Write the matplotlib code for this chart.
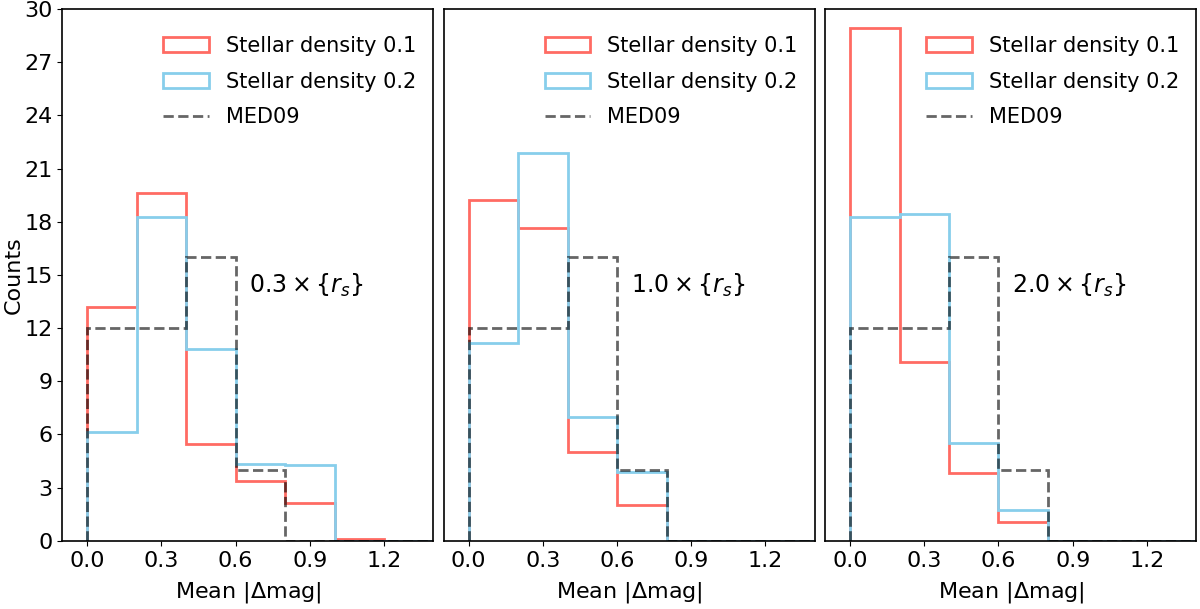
import numpy as np
import matplotlib
matplotlib.use("Agg")
import matplotlib.pyplot as plt
from matplotlib.lines import Line2D

bins = [0.0, 0.2, 0.4, 0.6, 0.8, 1.0, 1.2, 1.4]
labels_scale = ["0.3", "1.0", "2.0"]

red_vals = [
    [13.2, 19.6, 5.45, 3.35, 2.15, 0.08, 0.0],
    [19.25, 17.65, 5.0, 2.0, 0.0, 0.0, 0.0],
    [28.95, 10.1, 3.8, 1.05, 0.0, 0.0, 0.0],
]
blue_vals = [
    [6.15, 18.25, 10.8, 4.35, 4.28, 0.0, 0.0],
    [11.15, 21.9, 7.0, 3.9, 0.0, 0.0, 0.0],
    [18.25, 18.45, 5.5, 1.75, 0.0, 0.0, 0.0],
]
med09_vals = [12, 12, 16, 4, 0, 0, 0]

yticks = [0, 3, 6, 9, 12, 15, 18, 21, 24, 27, 30]
xticks = [0.0, 0.3, 0.6, 0.9, 1.2]

fig, axes = plt.subplots(1, 3, figsize=(12, 6.09), dpi=100, sharey=True)
fig.subplots_adjust(left=0.052, right=0.997, top=0.985, bottom=0.112, wspace=0.028)

centers = [(bins[i] + bins[i + 1]) / 2 for i in range(len(bins) - 1)]
for i, ax in enumerate(axes):
    _, _, p1 = ax.hist(centers, bins=bins, weights=red_vals[i], histtype="step",
                       color="#ff6b63", lw=2, label="Stellar density 0.1")
    _, _, p2 = ax.hist(centers, bins=bins, weights=blue_vals[i], histtype="step",
                       color="#87ceeb", lw=2, label="Stellar density 0.2")
    ax.hist(centers, bins=bins, weights=med09_vals, histtype="step",
            color="black", alpha=0.6, ls="--", lw=2)
    med_handle = Line2D([], [], color="black", alpha=0.6, ls="--", lw=2)
    ax.set_xlim(-0.1, 1.4)
    ax.set_ylim(0, 30)
    ax.set_xticks(xticks)
    ax.set_xticklabels([f"{t:.1f}" for t in xticks])
    ax.set_yticks(yticks)
    ax.tick_params(labelsize=16)
    ax.set_xlabel("Mean |$\\Delta$mag|", fontsize=16, labelpad=7)
    ax.text(0.655, 14.4, r"$%s \times \{r_s\}$" % labels_scale[i], fontsize=17,
            va="center", ha="left")
    ax.legend([p1[0], p2[0], med_handle],
              ["Stellar density 0.1", "Stellar density 0.2", "MED09"],
              loc="upper right", bbox_to_anchor=(0.992, 0.977),
              fontsize=15, frameon=False, handlelength=2.2, handleheight=0.7,
              handletextpad=0.8, labelspacing=0.75, borderaxespad=0.3)
    for s in ax.spines.values():
        s.set_linewidth(1.2)
    if i > 0:
        ax.tick_params(left=False, labelleft=False)

axes[0].set_ylabel("Counts", fontsize=16)
axes[0].yaxis.set_label_coords(-0.105, 0.5)

fig.savefig("out.png", dpi=100)
